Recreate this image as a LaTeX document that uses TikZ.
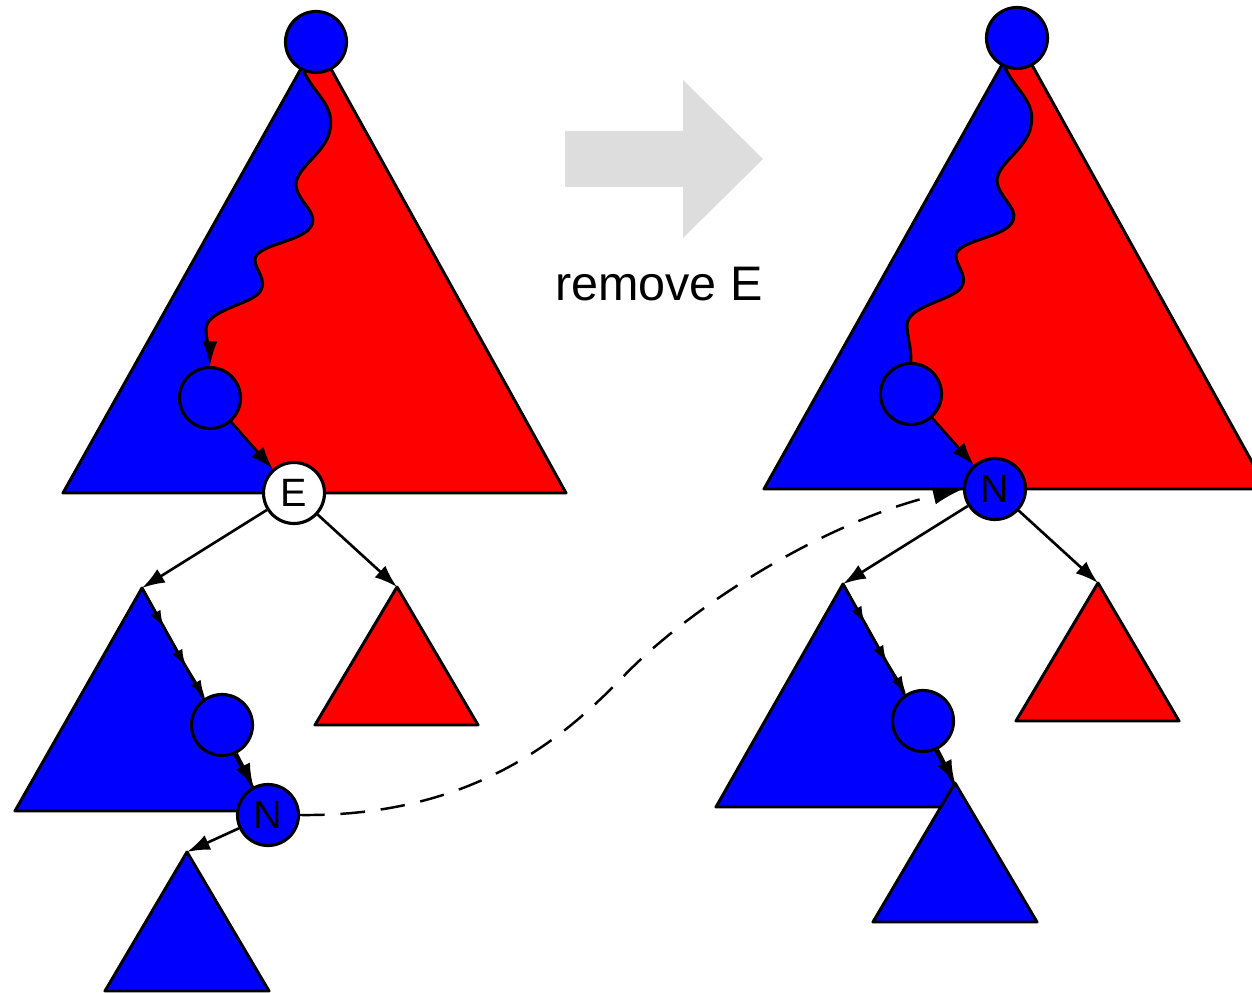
\documentclass[tikz,border=0pt]{standalone}
\usepackage{fontspec}
\setmainfont{Liberation Sans}
\usetikzlibrary{arrows.meta}

\definecolor{treeblue}{RGB}{0,0,255}
\definecolor{treered}{RGB}{255,0,0}
\definecolor{movegray}{RGB}{221,221,221}

\newcommand{\nodefont}{\fontsize{22.5}{26}\selectfont}
\newcommand{\captionfont}{\fontsize{27.6}{32}\selectfont}

% search path from the root down to the inner node (coordinates of the left tree)
\newcommand{\wavy}{.. controls (315,95) and (335,105) .. (330,130)
  .. controls (326,155) and (290,170) .. (297,190)
  .. controls (302,205) and (320,215) .. (310,228)
  .. controls (300,242) and (255,245) .. (255,260)
  .. controls (255,270) and (268,280) .. (260,292)
  .. controls (250,305) and (205,310) .. (206,330)
  .. controls (207,345) and (210,350) ..}

\tikzset{
  outline/.style={draw=black, line width=1.7pt, line join=round},
  treenode/.style={circle, draw=black, line width=1.8pt, fill=treeblue,
    minimum size=1.22cm, inner sep=0pt, font=\nodefont},
  gapnode/.style={treenode, fill=white},
  conn/.style={line width=1.5pt, -{Latex[length=13pt,width=9pt]}},
  chain/.style={line width=1.5pt, -{Latex[length=10pt,width=6.5pt]}},
  moveline/.style={line width=1.4pt, dash pattern=on 14pt off 9pt,
    -{Latex[length=17pt,width=10pt]}},
}

% one split tree: #1 tip of the search path, #2 style of the root node, #3 its label
\newcommand{\halftree}[3]{%
  \fill[treered] (63,493) -- (316,42) -- (566,493) -- cycle;
  \fill[treeblue] (63,493) -- (316,42) -- (305,70) \wavy (210,366)
    -- (210,398) -- (294,493) -- cycle;
  \draw[outline] (63,493) -- (316,42) -- (566,493) -- cycle;
  \coordinate (lsub) at (142,588);
  \coordinate (rsub) at (397,587);
  \coordinate (s1) at (164,628);
  \coordinate (s2) at (186,667);
  \filldraw[outline, fill=treeblue] (lsub) -- (266,811) -- (15,811) -- cycle;
  \filldraw[outline, fill=treered] (rsub) -- (478,725) -- (315,725) -- cycle;
  \node[treenode] (top) at (316,42) {};
  \node[treenode] (mid) at (210,398) {};
  \node[#2] (root) at (294,493) {#3};
  \node[treenode] (low) at (222,725) {};
  \draw[outline, #1] (top.248) \wavy (mid.north);
  \draw[conn] (mid) -- (root);
  \draw[conn] (root) -- (lsub);
  \draw[conn] (root) -- (rsub);
  \draw[chain] (lsub) -- (s1);
  \draw[chain] (s1) -- (s2);
  \draw[chain] (s2) -- (low);
}

\begin{document}
\begin{tikzpicture}[x=0.02cm, y=-0.02cm]
  \useasboundingbox (0,0) rectangle (1252,993);
  \clip (0,0) rectangle (1252,993);

  % before: E is the root of the lower part
  \begin{scope}[name prefix=L-]
    \halftree{-{Latex[length=14pt,width=8.5pt]}}{gapnode}{E}
    \node[treenode] (N) at (268,815) {N};
    \draw[conn] (low) -- (N);
    \coordinate (leaf) at (187,852);
    \filldraw[outline, fill=treeblue] (leaf) -- (269,991) -- (105,991) -- cycle;
    \draw[conn] (N) -- (leaf);
  \end{scope}

  % after: N takes the place of E
  \begin{scope}[name prefix=R-, shift={(701,-4)}]
    \halftree{}{treenode}{N}
  \end{scope}
  \coordinate (R-leaf) at (955,783);
  \filldraw[outline, fill=treeblue] (R-leaf) -- (1037,922) -- (873,922) -- cycle;
  \draw[conn] (R-low) -- (R-leaf);

  % N moves up into the gap
  \draw[moveline] (L-N.east) .. controls (480,817) and (570,730) .. (620,680)
    .. controls (690,605) and (830,520) .. (R-root.west);

  % operation arrow and caption
  \fill[movegray] (565,131) -- (683,131) -- (683,80) -- (763,159)
    -- (683,238) -- (683,187) -- (565,187) -- cycle;
  \node[font=\captionfont] (caption) at (659,284) {remove E};
\end{tikzpicture}
\end{document}
